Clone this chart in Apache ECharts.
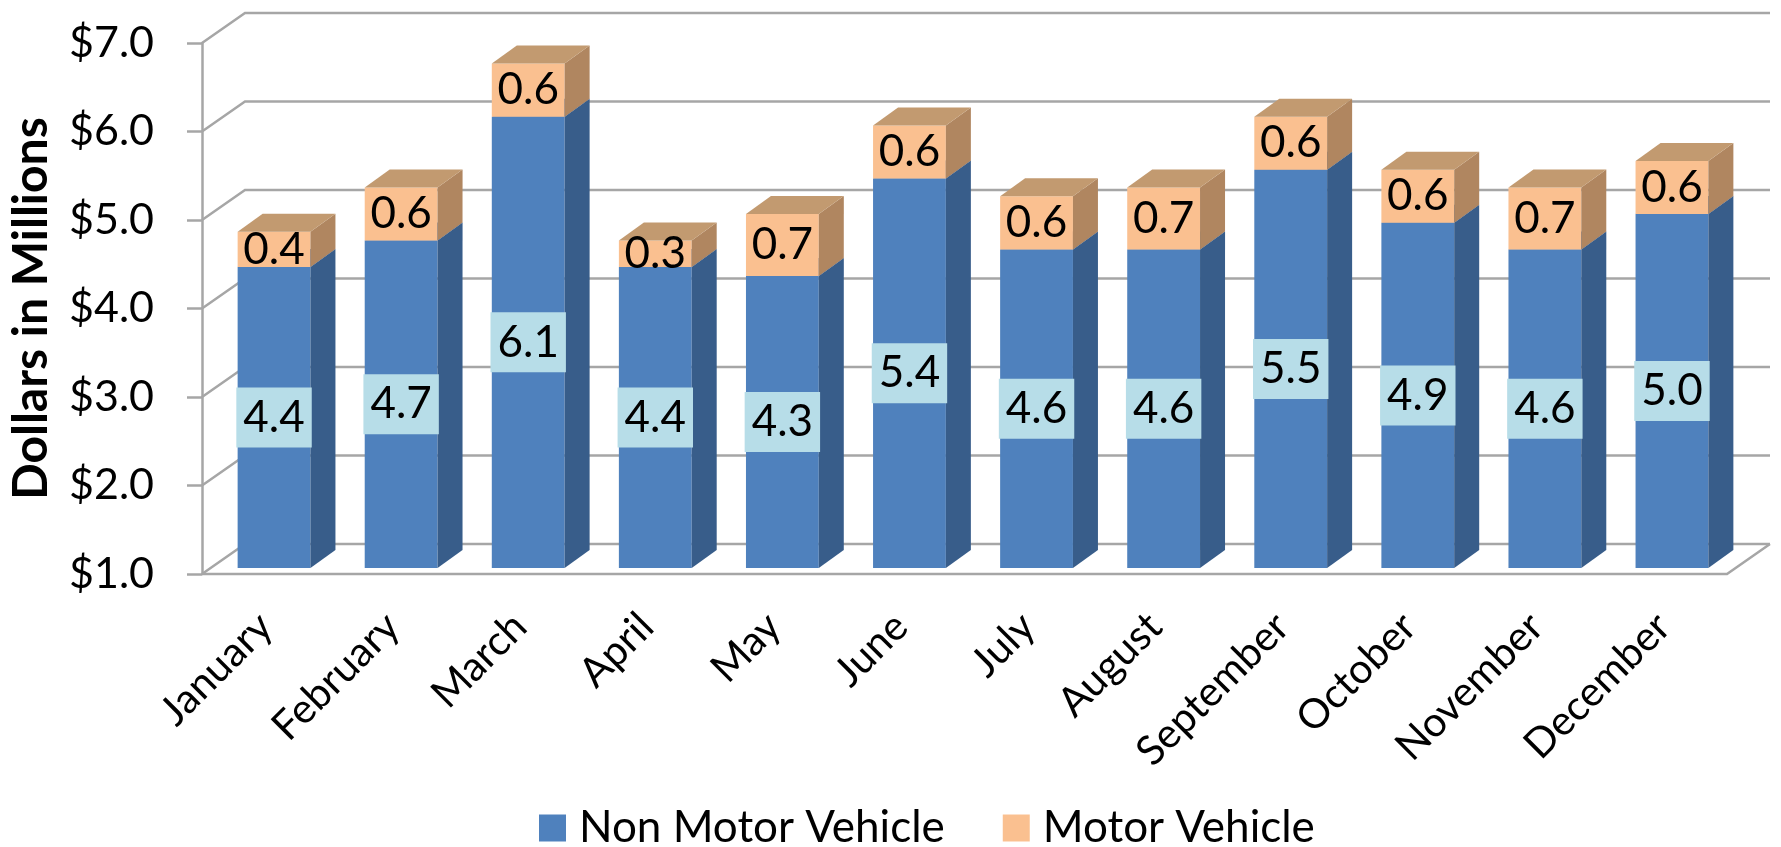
<!DOCTYPE html>
<html>
<head>
<meta charset="utf-8">
<script src="https://cdn.jsdelivr.net/npm/echarts@6/dist/echarts.min.js"></script>
<style>html,body{margin:0;padding:0;background:#fff}#c{width:1781px;height:847px}</style>
</head>
<body>
<div id="c"></div>
<script>
const months = ['January','February','March','April','May','June','July','August','September','October','November','December'];
const nonMotor = [4.4, 4.7, 6.1, 4.4, 4.3, 5.4, 4.6, 4.6, 5.5, 4.9, 4.6, 5.0];
const motor = [0.4, 0.6, 0.6, 0.3, 0.7, 0.6, 0.6, 0.7, 0.6, 0.6, 0.7, 0.6];
const yTicks = [1, 2, 3, 4, 5, 6, 7];
const seriesNames = ['Non Motor Vehicle', 'Motor Vehicle'];

const FONT = 'Lato';
const AXMIN = 1, AXMAX = 7;
const WALL = [43, -30];       // depth of back wall
const PLANE = [8.5, -6];      // bar front plane offset
const DEPTH = [25, -18];      // bar depth
const BARW = 0.573;           // fraction of band
const GRIDC = '#a6a6a6';

const chart = echarts.init(document.getElementById('c'), null, {renderer: 'canvas'});

function frameItem(params, api) {
  const cs = params.coordSys;
  const v = api.value(1);
  const y = api.coord([0, v])[1];
  const L = cs.x, R = cs.x + cs.width;
  const st = {stroke: GRIDC, lineWidth: 2.5, fill: null};
  const ch = [
    {type: 'polyline', shape: {points: [[L, y], [L + WALL[0], y + WALL[1]], [R + WALL[0], y + WALL[1]]]}, style: st}
  ];
  if (v === AXMIN) {
    ch.push({type: 'polyline', shape: {points: [[L, y], [R, y], [R + WALL[0], y + WALL[1]]]}, style: st});
  }
  return {type: 'group', children: ch};
}

function barItemFactory(colors, labelBox) {
  return function (params, api) {
    const i = api.value(0), base = api.value(1), top = api.value(2), val = api.value(3);
    const band = api.size([1, 0])[0];
    const w = band * BARW;
    const pB = api.coord([i, base]);
    const pT = api.coord([i, top]);
    const x0 = pB[0] - w / 2 + PLANE[0];
    const yb = pB[1] + PLANE[1];
    const yt = pT[1] + PLANE[1];
    const x1 = x0 + w;
    const ch = [];
    ch.push({type: 'rect', shape: {x: x0, y: yt, width: w, height: yb - yt}, style: {fill: colors.front}});
    ch.push({type: 'polygon', shape: {points: [[x1, yb], [x1 + DEPTH[0], yb + DEPTH[1]], [x1 + DEPTH[0], yt + DEPTH[1]], [x1, yt]]}, style: {fill: colors.side}});
    ch.push({type: 'polygon', shape: {points: [[x0, yt], [x1, yt], [x1 + DEPTH[0], yt + DEPTH[1]], [x0 + DEPTH[0], yt + DEPTH[1]]]}, style: {fill: colors.top}});
    const ts = {
      text: val.toFixed(1), x: x0 + w / 2, y: (yb + yt) / 2,
      align: 'center', verticalAlign: 'middle',
      fontFamily: FONT, fontSize: 44, fill: '#000'
    };
    if (labelBox) {
      ts.backgroundColor = '#b7dde8';
      ts.padding = [8, 7, 8, 7];
    }
    ch.push({type: 'text', style: ts, z2: 10});
    return {type: 'group', children: ch};
  };
}

const blueData = nonMotor.map((v, i) => [i, AXMIN, v, v]);
const orangeData = motor.map((v, i) => [i, nonMotor[i], nonMotor[i] + v, v]);

chart.setOption({
  animation: false,
  textStyle: {fontFamily: FONT},
  grid: {left: 199, right: 54, top: 43, bottom: 273, containLabel: false},
  xAxis: {
    type: 'category', data: months, boundaryGap: true,
    axisLine: {show: false}, axisTick: {show: false},
    axisLabel: {rotate: 45, interval: 0, fontSize: 41, color: '#000', fontFamily: FONT, margin: 46}
  },
  yAxis: {
    type: 'value', min: AXMIN, max: AXMAX, interval: 1,
    name: 'Dollars in Millions', nameLocation: 'middle', nameGap: 146,
    nameTextStyle: {fontSize: 48, fontWeight: 'bold', color: '#000', fontFamily: FONT},
    axisLine: {show: true, lineStyle: {color: GRIDC, width: 2.5}},
    axisTick: {show: true, length: 15, lineStyle: {color: GRIDC, width: 2.5}},
    splitLine: {show: false},
    axisLabel: {fontSize: 43, color: '#000', margin: 48, fontFamily: FONT, formatter: v => '$' + v.toFixed(1)}
  },
  legend: {
    data: seriesNames, left: 534, top: 801, icon: 'rect', itemWidth: 27, itemHeight: 27, itemGap: 58,
    textStyle: {fontSize: 44, color: '#000', fontFamily: FONT, padding: [0, 0, 0, 8]}
  },
  series: [
    {
      type: 'custom', name: 'frame', silent: true, z: 1,
      data: yTicks.map(v => [0, v]), encode: {x: 0, y: 1},
      renderItem: frameItem
    },
    {
      type: 'custom', name: seriesNames[0], z: 2,
      itemStyle: {color: '#4f81bd'},
      data: blueData, encode: {x: 0, y: [1, 2]},
      renderItem: barItemFactory({front: '#4f81bd', side: '#385d8a', top: '#4573ac'}, true)
    },
    {
      type: 'custom', name: seriesNames[1], z: 3,
      itemStyle: {color: '#fac090'},
      data: orangeData, encode: {x: 0, y: [1, 2]},
      renderItem: barItemFactory({front: '#fac090', side: '#b08660', top: '#c29a70'}, false)
    }
  ]
});
</script>
</body>
</html>
